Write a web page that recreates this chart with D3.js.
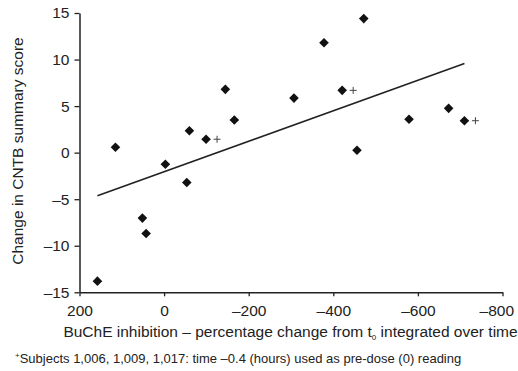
<!DOCTYPE html>
<html><head><meta charset="utf-8">
<script src="https://cdn.jsdelivr.net/npm/d3@7"></script>
<style>body{margin:0;background:#fff}svg{display:block}text{font-family:"Liberation Sans",Arial,sans-serif;fill:#222}</style>
</head><body>
<script>
const xValues = [157.6, 115, 51.3, 42.5, -3, -53.6, -59.8, -99.2, -144.8, -166, -307, -378, -421, -456, -472, -579, -672.6, -710];
const yValues = [-13.8, 0.58, -7.03, -8.68, -1.24, -3.2, 2.36, 1.44, 6.8, 3.5, 5.86, 11.8, 6.69, 0.26, 14.4, 3.58, 4.76, 3.43];
const flagged = [false, false, false, false, false, false, false, true, false, false, false, false, true, false, false, false, false, true];
const fitX = [157.6, -710];
const fitY = [-4.64, 9.58];
const xTicks = [200, 0, -200, -400, -600, -800];
const yTicks = [-15, -10, -5, 0, 5, 10, 15];

const W = 518, H = 371;
const svg = d3.select("body").append("svg").attr("width", W).attr("height", H);
const x = d3.scaleLinear().domain([200, -800]).range([79.5, 502.5]);
const y = d3.scaleLinear().domain([-15, 15]).range([292.3, 13]);

const fmt = d => (d < 0 ? "\u2013" + Math.abs(d) : String(d));

const gx = svg.append("g").attr("transform", `translate(0,${y(-15)})`)
  .call(d3.axisBottom(x).tickValues(xTicks).tickFormat(fmt).tickSize(4).tickSizeOuter(0));
const gy = svg.append("g").attr("transform", `translate(${x(200)},0)`)
  .call(d3.axisLeft(y).tickValues(yTicks).tickFormat(fmt).tickSize(5).tickSizeOuter(0));
[gx, gy].forEach(g => {
  g.select(".domain").attr("stroke", "#222").attr("stroke-width", 1.5);
  g.selectAll(".tick line").attr("stroke", "#222").attr("stroke-width", 1.3);
  g.selectAll("text").attr("font-size", 15.5).attr("fill", "#222").style("font-family", '"Liberation Sans",Arial,sans-serif');
});
gx.selectAll("text").attr("y", 0).attr("dy", 0).attr("transform", "translate(0,24)");
gx.selectAll(".tick").filter(d => d === -800).select("text").attr("text-anchor", "end").attr("x", 11);
gy.selectAll("text").attr("x", -10).attr("dx", 0);

// fit line
svg.append("line")
  .attr("x1", x(fitX[0])).attr("y1", y(fitY[0]))
  .attr("x2", x(fitX[1])).attr("y2", y(fitY[1]))
  .attr("stroke", "#222").attr("stroke-width", 1.6);

const data = xValues.map((v, i) => ({x: v, y: yValues[i], f: flagged[i]}));
svg.append("g").selectAll("path").data(data).join("path")
  .attr("d", d3.symbol().type(d3.symbolSquare).size(46))
  .attr("transform", d => `translate(${x(d.x)},${y(d.y)}) rotate(45)`)
  .attr("fill", "#111");

svg.append("g").selectAll("path").data(data.filter(d => d.f)).join("path")
  .attr("d", d => { const cx = x(d.x) + 11, cy = y(d.y); return `M${cx-3.5},${cy}H${cx+3.5}M${cx},${cy-3.5}V${cy+3.5}`; })
  .attr("stroke", "#444").attr("stroke-width", 1).attr("fill", "none");

svg.append("text").attr("transform", `translate(17,151) rotate(-90)`)
  .attr("text-anchor", "middle").attr("dominant-baseline", "central").attr("font-size", 15.5)
  .text("Change in CNTB summary score");

const xl = svg.append("text").attr("x", 290.5).attr("y", 337).attr("text-anchor", "middle").attr("font-size", 15.5);
xl.append("tspan").text("BuChE inhibition \u2013 percentage change from t");
xl.append("tspan").attr("font-size", 8).attr("dy", 3).text("0");
xl.append("tspan").attr("dy", -3).text(" integrated over time");

const fn = svg.append("text").attr("x", 15).attr("y", 363).attr("font-size", 13);
fn.append("tspan").attr("font-size", 8).attr("dy", -5).text("+");
fn.append("tspan").attr("dy", 5).text("Subjects 1,006, 1,009, 1,017: time \u20130.4 (hours) used as pre-dose (0) reading");
</script>
</body></html>
